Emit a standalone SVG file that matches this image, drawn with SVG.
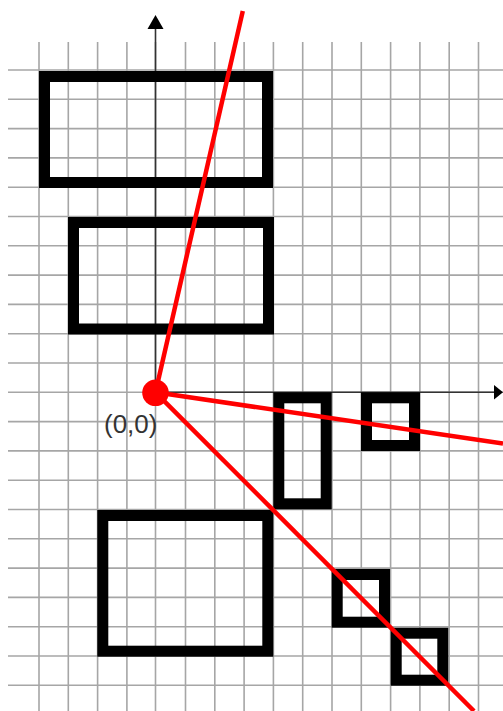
<svg xmlns="http://www.w3.org/2000/svg" width="503" height="711" viewBox="0 0 503 711">
<style>
.grid{stroke:#a6a6a6;stroke-width:1.6;fill:none}
.axis{stroke:#333;stroke-width:1.6;fill:none}
.box{fill:none;stroke:#000;stroke-width:11}
.ray{stroke:#ff0000;stroke-width:4.5;fill:none;stroke-linecap:butt}
.lbl{font-family:"Liberation Sans",Arial,sans-serif;font-size:26px;fill:#333}
</style>
<rect width="503" height="711" fill="#fff"/>
<g id="grid" class="grid">
<path d="M39 42V711M68.3 42V711M97.6 42V711M126.9 42V711M155.5 42V711M185.5 42V711M214.8 42V711M244.1 42V711M273.4 42V711M302.7 42V711M332 42V711M361.3 42V711M390.6 42V711M419.9 42V711M449.2 42V711M478.5 42V711"/>
<path d="M8 70H503M8 99.3H503M8 128.6H503M8 157.9H503M8 187.2H503M8 216.5H503M8 245.8H503M8 275.1H503M8 304.4H503M8 333.7H503M8 363H503M8 392.3H503M8 421.6H503M8 450.9H503M8 480.2H503M8 509.5H503M8 538.8H503M8 568.1H503M8 597.4H503M8 626.7H503M8 656H503M8 685.3H503"/>
</g>
<g id="axes">
<path class="axis" d="M155.5 392.3V28M155.5 392.3H495"/>
<polygon points="155.5,15 147.5,29 163.5,29" fill="#000"/>
<polygon points="503,392.3 494,385 494,399.6" fill="#000"/>
</g>
<g id="box1"><rect class="box" x="44.5" y="76.5" width="223" height="106"/></g>
<g id="box2"><rect class="box" x="73.5" y="222.5" width="195" height="106.5"/></g>
<g id="box3"><rect class="box" x="278.8" y="397.8" width="47.4" height="106"/></g>
<g id="box4"><rect class="box" x="366.5" y="397.8" width="48" height="47.7"/></g>
<g id="box5"><rect class="box" x="102.8" y="515.5" width="165" height="135.7"/></g>
<g id="box6"><rect class="box" x="337.2" y="574.5" width="47.3" height="47.7"/></g>
<g id="box7"><rect class="box" x="396.2" y="633.2" width="46.6" height="47"/></g>
<g id="connectors">
<path class="ray" d="M155.5 392.3L242.8 11"/>
<path class="ray" d="M155.5 392.3L503 443.5"/>
<path class="ray" d="M155.5 392.3L474 711"/>
</g>
<g id="origin">
<circle cx="155.5" cy="392.8" r="13.3" fill="#ff0000"/>
<text class="lbl" x="104" y="433">(0,0)</text>
</g>
</svg>
